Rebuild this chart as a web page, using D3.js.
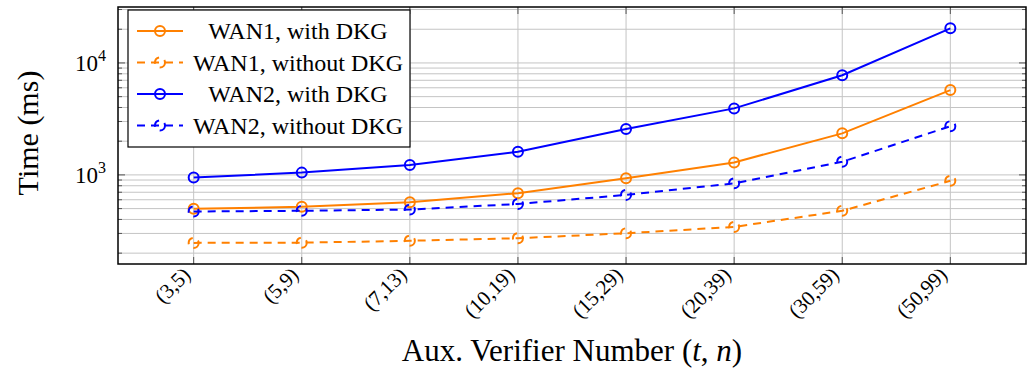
<!DOCTYPE html>
<html>
<head>
<meta charset="utf-8">
<script src="https://cdn.jsdelivr.net/npm/d3@7"></script>
<style>
  body { margin: 0; background: #fff; }
  svg { display: block; font-family: "Liberation Serif", "DejaVu Serif", serif; }
  .grid line { stroke: #c4c4c4; stroke-width: 1; }
</style>
</head>
<body>
<svg width="1028" height="372"></svg>
<script>
var categories = ["(3,5)", "(5,9)", "(7,13)", "(10,19)", "(15,29)", "(20,39)", "(30,59)", "(50,99)"];
var wan1With = [498, 519, 571, 687, 934, 1292, 2350, 5720];
var wan1Without = [247, 248, 258, 272, 301, 343, 478, 885];
var wan2With = [946, 1048, 1228, 1611, 2570, 3927, 7770, 20370];
var wan2Without = [471, 478, 490, 550, 663, 840, 1310, 2718];
var seriesNames = ["WAN1, with DKG", "WAN1, without DKG", "WAN2, with DKG", "WAN2, without DKG"];
var majorTicks = [1000, 10000];

var orange = "#ff8000", blue = "#0000ff";
var series = [
    {name: seriesNames[0], values: wan1With, color: orange, dash: null},
    {name: seriesNames[1], values: wan1Without, color: orange, dash: "8,6"},
    {name: seriesNames[2], values: wan2With, color: blue, dash: null},
    {name: seriesNames[3], values: wan2Without, color: blue, dash: "8,6"}
];

var svg = d3.select("svg");
// note: "top" is taken by window.top, so use plot* names
var plotLeft = 118, plotRight = 1026, plotTop = 7, plotBottom = 264;

var x = d3.scaleLinear()
    .domain([-0.7, categories.length - 1 + 0.7])
    .range([plotLeft, plotRight]);
var y = d3.scaleLog()
    .domain([160, 31600])
    .range([plotBottom, plotTop]);

// minor log ticks 2..9 x 10^k inside domain
var minorTicks = [];
[100, 1000, 10000].forEach(function(p) {
    for (var k = 2; k <= 9; k++) {
        var v = p * k;
        if (v >= y.domain()[0] && v <= y.domain()[1]) minorTicks.push(v);
    }
});

var grid = svg.append("g").attr("class", "grid");
grid.selectAll("line.h")
    .data(minorTicks.concat(majorTicks))
    .enter().append("line")
    .attr("x1", plotLeft).attr("x2", plotRight)
    .attr("y1", function(d) { return y(d); })
    .attr("y2", function(d) { return y(d); });
grid.selectAll("line.v")
    .data(categories)
    .enter().append("line")
    .attr("y1", plotTop).attr("y2", plotBottom)
    .attr("x1", function(d, i) { return x(i); })
    .attr("x2", function(d, i) { return x(i); });

// inward ticks
var ticks = svg.append("g").attr("stroke", "#555").attr("stroke-width", 1);
minorTicks.forEach(function(v) {
    ticks.append("line").attr("x1", plotLeft).attr("x2", plotLeft + 4).attr("y1", y(v)).attr("y2", y(v));
    ticks.append("line").attr("x1", plotRight - 4).attr("x2", plotRight).attr("y1", y(v)).attr("y2", y(v));
});
majorTicks.forEach(function(v) {
    ticks.append("line").attr("x1", plotLeft).attr("x2", plotLeft + 7).attr("y1", y(v)).attr("y2", y(v));
    ticks.append("line").attr("x1", plotRight - 7).attr("x2", plotRight).attr("y1", y(v)).attr("y2", y(v));
});
categories.forEach(function(c, i) {
    ticks.append("line").attr("x1", x(i)).attr("x2", x(i)).attr("y1", plotBottom).attr("y2", plotBottom - 7);
    ticks.append("line").attr("x1", x(i)).attr("x2", x(i)).attr("y1", plotTop).attr("y2", plotTop + 7);
});

// lines and markers
var line = d3.line()
    .x(function(d, i) { return x(i); })
    .y(function(d) { return y(d); });

series.forEach(function(s) {
    svg.append("path")
        .datum(s.values)
        .attr("d", line)
        .attr("fill", "none")
        .attr("stroke", s.color)
        .attr("stroke-width", 2)
        .attr("stroke-dasharray", s.dash);
    svg.append("g").selectAll("circle")
        .data(s.values)
        .enter().append("circle")
        .attr("cx", function(d, i) { return x(i); })
        .attr("cy", function(d) { return y(d); })
        .attr("r", 5)
        .attr("fill", "none")
        .attr("stroke", s.color)
        .attr("stroke-width", 2)
        .attr("stroke-dasharray", s.dash);
});

// frame
svg.append("rect")
    .attr("x", plotLeft).attr("y", plotTop)
    .attr("width", plotRight - plotLeft).attr("height", plotBottom - plotTop)
    .attr("fill", "none").attr("stroke", "#000").attr("stroke-width", 1.5);

// y tick labels
majorTicks.forEach(function(v) {
    var t = svg.append("text")
        .attr("x", 106).attr("y", y(v) + 8)
        .attr("text-anchor", "end")
        .attr("font-size", 23);
    t.append("tspan").text("10");
    t.append("tspan").attr("dy", -10).attr("font-size", 16).text(Math.round(Math.log10(v)));
});

// x tick labels
svg.append("g").selectAll("text")
    .data(categories)
    .enter().append("text")
    .attr("transform", function(d, i) { return "translate(" + (x(i) - 2) + "," + (plotBottom + 12) + ") rotate(-45)"; })
    .attr("text-anchor", "end")
    .attr("font-size", 21)
    .text(function(d) { return d; });

// axis titles
var xt = svg.append("text")
    .attr("x", (plotLeft + plotRight) / 2).attr("y", 361)
    .attr("text-anchor", "middle")
    .attr("font-size", 31);
xt.append("tspan").text("Aux. Verifier Number (");
xt.append("tspan").attr("font-style", "italic").text("t");
xt.append("tspan").text(", ");
xt.append("tspan").attr("font-style", "italic").text("n");
xt.append("tspan").text(")");

svg.append("text")
    .attr("transform", "translate(38,133) rotate(-90)")
    .attr("text-anchor", "middle")
    .attr("font-size", 30)
    .text("Time (ms)");

// legend
var lg = svg.append("g");
lg.append("rect")
    .attr("x", 128).attr("y", 10)
    .attr("width", 282).attr("height", 137)
    .attr("fill", "#fff").attr("stroke", "#000").attr("stroke-width", 1.2);
series.forEach(function(s, i) {
    var ly = 31 + i * 31.5;
    lg.append("line")
        .attr("x1", 137).attr("x2", 183)
        .attr("y1", ly).attr("y2", ly)
        .attr("stroke", s.color).attr("stroke-width", 2)
        .attr("stroke-dasharray", s.dash);
    lg.append("circle")
        .attr("cx", 160).attr("cy", ly).attr("r", 5)
        .attr("fill", "none").attr("stroke", s.color).attr("stroke-width", 2)
        .attr("stroke-dasharray", s.dash);
    lg.append("text")
        .attr("x", 298).attr("y", ly + 8)
        .attr("text-anchor", "middle")
        .attr("font-size", 24)
        .text(s.name);
});
</script>
</body>
</html>
